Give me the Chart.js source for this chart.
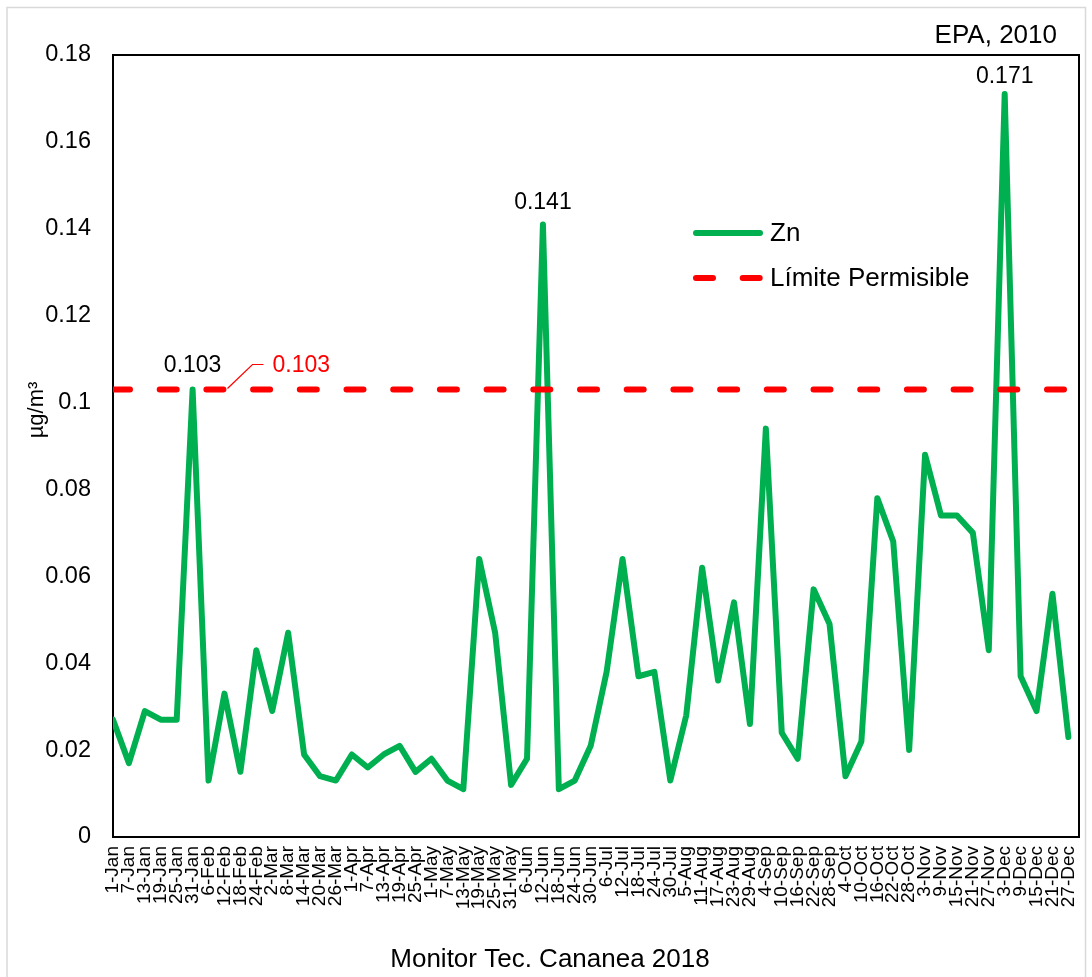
<!DOCTYPE html>
<html>
<head>
<meta charset="utf-8">
<title>Zn - Monitor Tec. Cananea 2018</title>
<script src="https://cdn.jsdelivr.net/npm/chart.js@4.4.1/dist/chart.umd.min.js"></script>
<style>
  html, body { margin: 0; padding: 0; background: #ffffff; }
  #wrap { width: 1092px; height: 977px; position: relative; }
  canvas { display: block; }
</style>
</head>
<body>
<div id="wrap"><canvas id="chart" width="1092" height="977"></canvas></div>
<script>
// Sampling dates (every 6 days through 2018)
const sampleDates = [
  '1-Jan', '7-Jan', '13-Jan', '19-Jan', '25-Jan', '31-Jan', '6-Feb', '12-Feb', '18-Feb', '24-Feb',
  '2-Mar', '8-Mar', '14-Mar', '20-Mar', '26-Mar', '1-Apr', '7-Apr', '13-Apr', '19-Apr', '25-Apr',
  '1-May', '7-May', '13-May', '19-May', '25-May', '31-May', '6-Jun', '12-Jun', '18-Jun', '24-Jun',
  '30-Jun', '6-Jul', '12-Jul', '18-Jul', '24-Jul', '30-Jul', '5-Aug', '11-Aug', '17-Aug', '23-Aug',
  '29-Aug', '4-Sep', '10-Sep', '16-Sep', '22-Sep', '28-Sep', '4-Oct', '10-Oct', '16-Oct', '22-Oct',
  '28-Oct', '3-Nov', '9-Nov', '15-Nov', '21-Nov', '27-Nov', '3-Dec', '9-Dec', '15-Dec', '21-Dec',
  '27-Dec'
];

// Zn concentration (µg/m³) per sample
const znValues = [
  0.027, 0.017, 0.029, 0.027, 0.027, 0.103, 0.013, 0.033, 0.015, 0.043,
  0.029, 0.047, 0.019, 0.014, 0.013, 0.019, 0.016, 0.019, 0.021, 0.015,
  0.018, 0.013, 0.011, 0.064, 0.047, 0.012, 0.018, 0.141, 0.011, 0.013,
  0.021, 0.038, 0.064, 0.037, 0.038, 0.013, 0.028, 0.062, 0.036, 0.054,
  0.026, 0.094, 0.024, 0.018, 0.057, 0.049, 0.014, 0.022, 0.078, 0.068,
  0.020, 0.088, 0.074, 0.074, 0.070, 0.043, 0.171, 0.037, 0.029, 0.056,
  0.023
];

// EPA (2010) permissible limit, constant across the year
const limitValue = 0.103;
const limitValues = sampleDates.map(() => limitValue);

// Samples whose value is printed above the line
const labelledSamples = [5, 27, 56];
// Sample of the limit series that carries its value label
const limitLabelSample = 7;

// Y axis ticks
const yTickValues = [0, 0.02, 0.04, 0.06, 0.08, 0.1, 0.12, 0.14, 0.16, 0.18];

// Date axis spans 1-Jan .. 31-Dec, samples are 6 days apart
const xAxisMax = 364 / 6;

const FONT = "'Liberation Sans', Arial, Helvetica, sans-serif";
const GREEN = '#00B050';
const RED = '#FF0000';

// Per-label vertical lift of the value labels above their points (px)
const labelLift = { 5: 18, 27: 15, 56: 11 };

const decorations = {
  id: 'decorations',
  beforeDraw(chart) {
    const { ctx, width, height } = chart;
    ctx.save();
    ctx.fillStyle = '#ffffff';
    ctx.fillRect(0, 0, width, height);
    // light outer frame of the chart area
    ctx.strokeStyle = '#D9D9D9';
    ctx.lineWidth = 1.5;
    ctx.strokeRect(7, 7.5, 1078.5, height + 20);
    ctx.restore();
  },
  beforeDatasetsDraw(chart) {
    const { ctx, chartArea: a } = chart;
    ctx.save();
    ctx.strokeStyle = '#000000';
    ctx.lineWidth = 2;
    ctx.strokeRect(a.left, a.top, a.right - a.left, a.bottom - a.top);
    ctx.restore();
  },
  afterDatasetsDraw(chart) {
    const { ctx, scales } = chart;
    const xs = scales.x, ys = scales.y;
    ctx.save();

    // value labels on the Zn peaks
    ctx.fillStyle = '#000000';
    ctx.font = `23px ${FONT}`;
    ctx.textAlign = 'center';
    ctx.textBaseline = 'alphabetic';
    labelledSamples.forEach(i => {
      const px = xs.getPixelForValue(i);
      const py = ys.getPixelForValue(znValues[i]);
      ctx.fillText(znValues[i].toFixed(3), px, py - labelLift[i]);
    });

    // limit value label with its leader line
    const lx = xs.getPixelForValue(limitLabelSample);
    const ly = ys.getPixelForValue(limitValues[limitLabelSample]);
    ctx.strokeStyle = RED;
    ctx.lineWidth = 1.2;
    ctx.beginPath();
    ctx.moveTo(lx + 3, ly - 1);
    ctx.lineTo(lx + 28, ly - 25);
    ctx.lineTo(lx + 39, ly - 25);
    ctx.stroke();
    ctx.fillStyle = RED;
    ctx.textAlign = 'left';
    ctx.fillText(limitValue.toFixed(3), lx + 48, ly - 18);

    // legend
    const ds = chart.data.datasets;
    const legendX = 693, legendW = 70;
    const rows = [233, 278];
    ds.forEach((d, k) => {
      const y = rows[k];
      ctx.save();
      ctx.strokeStyle = d.borderColor;
      ctx.lineWidth = d.borderWidth;
      ctx.lineCap = 'round';
      ctx.setLineDash(d.borderDash || []);
      ctx.beginPath();
      ctx.moveTo(legendX + 3, y);
      ctx.lineTo(legendX + legendW - 3, y);
      ctx.stroke();
      ctx.restore();
      ctx.fillStyle = '#000000';
      ctx.font = `26px ${FONT}`;
      ctx.textAlign = 'left';
      ctx.textBaseline = 'middle';
      ctx.fillText(d.label, legendX + legendW + 7, y + 1);
    });

    // source note
    ctx.font = `26px ${FONT}`;
    ctx.textAlign = 'right';
    ctx.textBaseline = 'alphabetic';
    ctx.fillText('EPA, 2010', 1057, 43);

    // axis titles
    ctx.textAlign = 'center';
    ctx.fillText('Monitor Tec. Cananea 2018', 550, 967);

    ctx.save();
    ctx.translate(37, 410);
    ctx.rotate(-Math.PI / 2);
    ctx.font = `22px ${FONT}`;
    ctx.textBaseline = 'middle';
    ctx.fillText('µg/m³', 0, 0);
    ctx.restore();

    ctx.restore();
  }
};

new Chart(document.getElementById('chart'), {
  type: 'line',
  data: {
    datasets: [
      {
        label: 'Zn',
        data: znValues.map((v, i) => ({ x: i, y: v })),
        borderColor: GREEN,
        backgroundColor: GREEN,
        borderWidth: 6,
        borderJoinStyle: 'round',
        borderCapStyle: 'round',
        pointRadius: 0,
        tension: 0,
        fill: false,
        order: 1
      },
      {
        label: 'Límite Permisible',
        data: limitValues.map((v, i) => ({ x: i, y: v })),
        borderColor: RED,
        backgroundColor: RED,
        borderWidth: 6,
        borderDash: [17, 29.7],
        borderCapStyle: 'round',
        pointRadius: 0,
        tension: 0,
        fill: false,
        order: 0
      }
    ]
  },
  options: {
    responsive: false,
    animation: false,
    devicePixelRatio: 1,
    layout: { padding: { left: 0, top: 55, right: 13, bottom: 0 } },
    plugins: {
      legend: { display: false },
      tooltip: { enabled: false },
      title: { display: false }
    },
    scales: {
      x: {
        type: 'linear',
        min: 0,
        max: xAxisMax,
        afterBuildTicks: s => { s.ticks = sampleDates.map((_, i) => ({ value: i })); },
        afterFit: s => { s.height = 140; s.paddingLeft = 0; s.paddingRight = 0; },
        grid: { display: false, drawTicks: false },
        border: { display: false },
        ticks: {
          autoSkip: false,
          maxRotation: 90,
          minRotation: 90,
          padding: 9,
          color: '#000000',
          font: { family: FONT, size: 19 },
          callback: v => sampleDates[v]
        }
      },
      y: {
        type: 'linear',
        min: 0,
        max: 0.18,
        afterBuildTicks: s => { s.ticks = yTickValues.map(v => ({ value: v })); },
        afterFit: s => { s.width = 113; s.paddingTop = 0; s.paddingBottom = 0; },
        grid: { display: false, drawTicks: false },
        border: { display: false },
        ticks: {
          padding: 22,
          color: '#000000',
          font: { family: FONT, size: 23.5 },
          callback: v => String(v)
        }
      }
    }
  },
  plugins: [decorations]
});
</script>
</body>
</html>
